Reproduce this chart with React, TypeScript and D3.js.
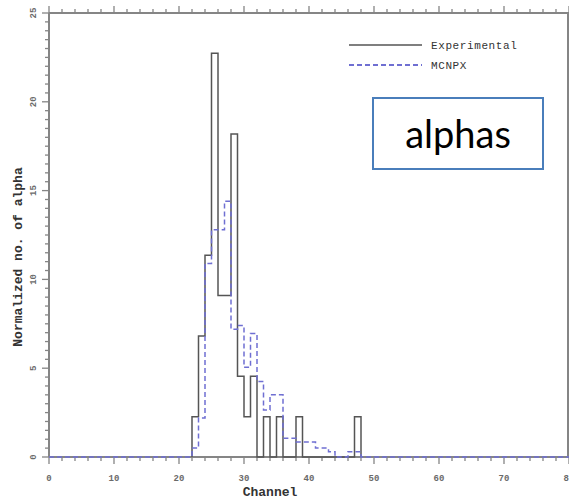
import React, { useEffect, useRef } from 'react';
import * as d3 from 'd3';

const width = 569;
const height = 500;

// channel where the first bin starts, bins are 1 channel wide
const firstChannel = 22;
const experimental = [2.27, 6.82, 11.36, 22.73, 9.09, 9.09, 18.18, 4.55, 2.27, 4.55, 0, 2.27, 0, 2.27, 0, 0, 2.27, 0, 0, 0, 0, 0, 0, 0, 0, 2.27];
const mcnpx = [0.5, 2.2, 10.9, 12.8, 12.8, 14.4, 7.2, 7.4, 5.05, 6.95, 4.25, 2.65, 3.5, 3.5, 1.05, 1.05, 0.85, 0.85, 0.85, 0.5, 0.5, 0.3, 0, 0, 0.3, 0.3];

const xTicks = [0, 10, 20, 30, 40, 50, 60, 70, 80];
const yTicks = [0, 5, 10, 15, 20, 25];
const legendLabels = ['Experimental', 'MCNPX'];

const expColor = '#555555';
const mcnpColor = '#6f6fd2';
const axisColor = '#858585';
const mono = '"Liberation Mono", "DejaVu Sans Mono", monospace';

function App() {
    const ref = useRef<SVGSVGElement>(null);

    useEffect(() => {
        const svg = d3.select(ref.current);
        svg.selectAll('*').remove();

        const x = d3.scaleLinear().domain([0, 80]).range([49, 569]);
        const y = d3.scaleLinear().domain([0, 25]).range([457, 13]);

        // histogram outlines
        const stepLine = d3.line<[number, number]>()
            .x(d => x(d[0]))
            .y(d => y(d[1]))
            .curve(d3.curveStepAfter);

        const expPts: [number, number][] = [[firstChannel, 0]];
        experimental.forEach((v, i) => expPts.push([firstChannel + i, v]));
        expPts.push([firstChannel + experimental.length, 0]);

        const mcPts: [number, number][] = [[0, 0], [firstChannel, 0]];
        mcnpx.forEach((v, i) => mcPts.push([firstChannel + i, v]));
        mcPts.push([firstChannel + mcnpx.length, 0]);
        mcPts.push([80, 0]);

        // frame
        const g = svg.append('g');
        g.append('line').attr('x1', x(0)).attr('x2', x(80)).attr('y1', y(25)).attr('y2', y(25))
            .attr('stroke', axisColor).attr('stroke-width', 2);
        g.append('line').attr('x1', x(0)).attr('x2', x(80)).attr('y1', y(0)).attr('y2', y(0))
            .attr('stroke', axisColor).attr('stroke-width', 2);
        g.append('line').attr('x1', x(0)).attr('x2', x(0)).attr('y1', y(0)).attr('y2', y(25))
            .attr('stroke', axisColor).attr('stroke-width', 2);
        g.append('line').attr('x1', x(80) - 1).attr('x2', x(80) - 1).attr('y1', y(0)).attr('y2', y(25))
            .attr('stroke', axisColor).attr('stroke-width', 2);

        // ticks on x (bottom and top), major every 10, minor every 2
        d3.range(0, 81, 2).forEach(t => {
            const major = t % 10 === 0;
            const len = major ? 7 : 4;
            g.append('line').attr('x1', x(t)).attr('x2', x(t)).attr('y1', y(0)).attr('y2', y(0) + len)
                .attr('stroke', axisColor).attr('stroke-width', 1.3);
            g.append('line').attr('x1', x(t)).attr('x2', x(t)).attr('y1', y(25)).attr('y2', y(25) - len)
                .attr('stroke', axisColor).attr('stroke-width', 1.3);
        });
        // ticks on y, major every 5, minor every 0.5
        d3.range(0, 25.01, 0.5).forEach(t => {
            const major = Math.abs(t % 5) < 1e-6;
            const len = major ? 7 : 4;
            g.append('line').attr('x1', x(0)).attr('x2', x(0) - len).attr('y1', y(t)).attr('y2', y(t))
                .attr('stroke', axisColor).attr('stroke-width', 1.3);
        });

        g.selectAll('.xl').data(xTicks).enter().append('text')
            .attr('x', d => x(d)).attr('y', 481)
            .attr('text-anchor', 'middle')
            .attr('font-family', mono).attr('font-size', 9).attr('font-weight', 'bold')
            .attr('fill', '#6a6a6a')
            .text(d => d);

        g.selectAll('.yl').data(yTicks).enter().append('text')
            .attr('transform', d => `translate(36,${y(d)}) rotate(-90)`)
            .attr('text-anchor', 'middle')
            .attr('font-family', mono).attr('font-size', 9).attr('font-weight', 'bold')
            .attr('fill', '#6a6a6a')
            .text(d => d);

        g.append('text')
            .attr('x', 270).attr('y', 496)
            .attr('text-anchor', 'middle')
            .attr('font-family', mono).attr('font-size', 13).attr('font-weight', 'bold')
            .attr('fill', '#333')
            .text('Channel');

        g.append('text')
            .attr('transform', 'translate(22,257) rotate(-90)')
            .attr('text-anchor', 'middle')
            .attr('font-family', mono).attr('font-size', 13).attr('font-weight', 'bold')
            .attr('fill', '#333')
            .text('Normalized no. of alpha');

        // series
        svg.append('path')
            .attr('d', stepLine(expPts))
            .attr('fill', 'none')
            .attr('stroke', expColor)
            .attr('stroke-width', 1.5);

        svg.append('path')
            .attr('d', stepLine(mcPts))
            .attr('fill', 'none')
            .attr('stroke', mcnpColor)
            .attr('stroke-width', 1.5)
            .attr('stroke-dasharray', '5,3');

        // legend
        const lg = svg.append('g');
        legendLabels.forEach((name, i) => {
            const ly = 45 + i * 20;
            lg.append('line').attr('x1', 349).attr('x2', 422).attr('y1', ly).attr('y2', ly)
                .attr('stroke', i === 0 ? expColor : mcnpColor)
                .attr('stroke-width', i === 0 ? 1.3 : 1.8)
                .attr('stroke-dasharray', i === 0 ? null : '5,3');
            lg.append('text')
                .attr('x', 431).attr('y', ly + 4)
                .attr('font-family', mono).attr('font-size', 11)
                .attr('letter-spacing', 0.6)
                .attr('fill', '#333')
                .text(name);
        });

        // annotation box
        svg.append('rect')
            .attr('x', 373).attr('y', 98).attr('width', 170).attr('height', 71)
            .attr('fill', 'white')
            .attr('stroke', '#4a7ebb').attr('stroke-width', 2);
        svg.append('text')
            .attr('x', 458).attr('y', 148)
            .attr('text-anchor', 'middle')
            .attr('font-family', 'Lato, "Open Sans", sans-serif')
            .attr('font-size', 38)
            .attr('fill', '#000')
            .text('alphas');
    }, []);

    return (
        <svg ref={ref} width={width} height={height}
            style={{ position: 'absolute', left: 0, top: 0, background: 'white' }} />
    );
}

export default App;
